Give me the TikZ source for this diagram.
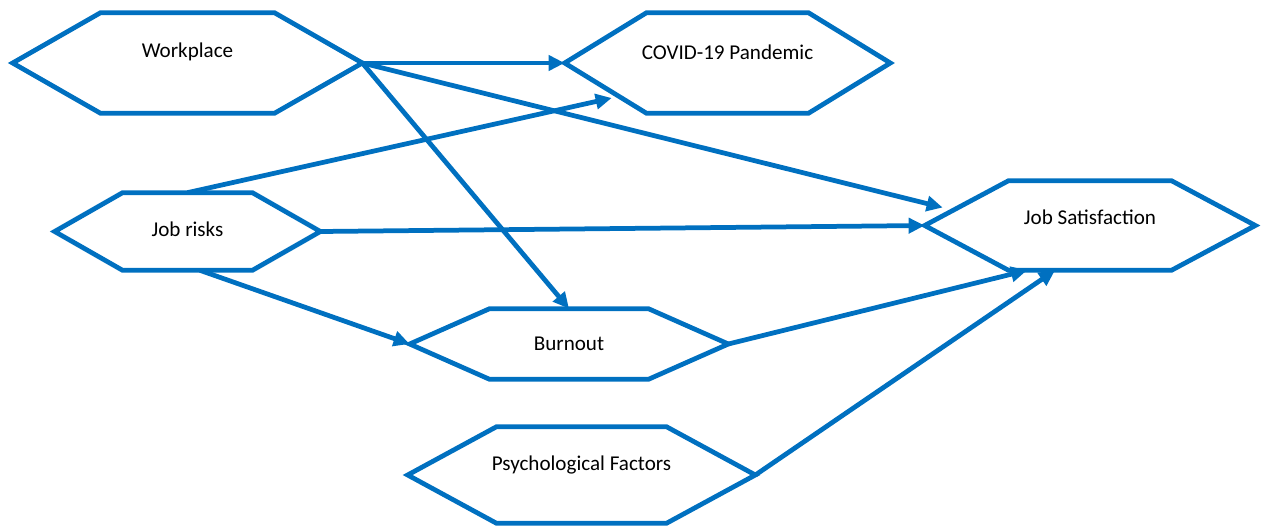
\documentclass[tikz,border=0pt]{standalone}
\usepackage{fontspec}
\setmainfont{Carlito}
\usetikzlibrary{arrows.meta}

\definecolor{hexblue}{HTML}{0070C0}

\tikzset{
  hexbox/.style 2 args={rectangle, inner sep=0pt, minimum width=#1, minimum height=#2},
  hexline/.style={draw=hexblue, line width=0.095cm, line join=miter},
  link/.style={draw=hexblue, line width=0.095cm, -{Triangle[length=0.32cm,width=0.3cm]}},
  every label/.style={font=\fontsize{12}{14}\selectfont}
}

% hexagon round a named box: name, slant
\newcommand{\drawhex}[2]{%
  \draw[hexline] (#1.west) -- ([xshift=#2]#1.north west) -- ([xshift=-#2]#1.north east)
    -- (#1.east) -- ([xshift=-#2]#1.south east) -- ([xshift=#2]#1.south west) -- cycle;}

\begin{document}
\begin{tikzpicture}
    \useasboundingbox (0,0) rectangle (25.22,-10.54);

    \node[hexbox={6.98cm}{2cm}, label={[yshift=0.22cm]center:Workplace}] (wp) at (3.75, -1.26) {};
    \drawhex{wp}{1.76cm}
    \node[hexbox={6.5cm}{2cm}, label={[yshift=0.22cm]center:COVID-19 Pandemic}] (cv) at (14.55, -1.26) {};
    \drawhex{cv}{1.64cm}

    \node[hexbox={5.3cm}{1.54cm}, label={[yshift=0.05cm]center:Job risks}] (jr) at (3.75, -4.63) {};
    \drawhex{jr}{1.36cm}
    \node[hexbox={6.6cm}{1.78cm}, label={[yshift=0.16cm]center:Job Satisfaction}] (js) at (21.8, -4.51) {};
    \drawhex{js}{1.68cm}

    \node[hexbox={6.36cm}{1.4cm}, label={center:Burnout}] (bo) at (11.38, -6.88) {};
    \drawhex{bo}{1.6cm}
    \node[hexbox={6.94cm}{1.92cm}, label={[yshift=0.2cm]center:Psychological Factors}] (ps) at (11.63, -9.5) {};
    \drawhex{ps}{1.78cm}

    \draw[link] (wp.east) -- (cv.west);
    \draw[link] (wp.east) -- ([shift={(0.36cm,0.36cm)}]js.west);
    \draw[link] (wp.east) -- (bo.north);

    \draw[link] (jr.north) -- ([shift={(0.94cm,-0.7cm)}]cv.west);
    \draw[link] (jr.east) -- (js.west);
    \draw[link] ([xshift=0.25cm]jr.south) -- (bo.west);

    \draw[link] (bo.east) -- ([xshift=-1.26cm]js.south);
    \draw[link] (ps.east) -- ([xshift=-0.7cm]js.south);
\end{tikzpicture}
\end{document}
